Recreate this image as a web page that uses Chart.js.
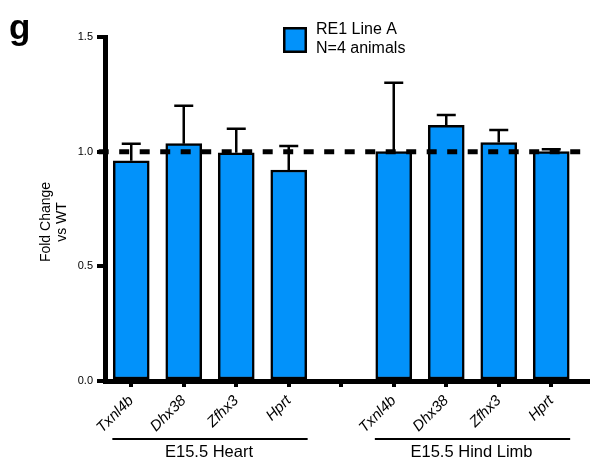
<!DOCTYPE html>
<html>
<head>
<meta charset="utf-8">
<script src="https://cdn.jsdelivr.net/npm/chart.js@4.4.1/dist/chart.umd.min.js"></script>
<style>
  html, body { margin: 0; padding: 0; background: #fff; }
  #wrap { width: 596px; height: 459px; position: relative; }
</style>
</head>
<body>
<div id="wrap"><canvas id="c" width="596" height="459"></canvas></div>
<script>
// Genes measured in each tissue
const genes = ['Txnl4b', 'Dhx38', 'Zfhx3', 'Hprt'];
// Tick labels along the x axis (an empty slot separates the two tissues)
const tickLabels = ['Txnl4b', 'Dhx38', 'Zfhx3', 'Hprt', '', 'Txnl4b', 'Dhx38', 'Zfhx3', 'Hprt'];
const groupNames = ['E15.5 Heart', 'E15.5 Hind Limb'];

// Mean fold change vs WT and SEM
const heartMean = [0.96, 1.035, 0.995, 0.92];
const heartSem  = [0.075, 0.165, 0.105, 0.105];
const limbMean  = [1.0, 1.115, 1.04, 1.0];
const limbSem   = [0.30, 0.045, 0.055, 0.01];

// Y axis ticks
const yTicks = [0.0, 0.5, 1.0, 1.5];
const refLevel = 1.0;

const seriesLabel = ['RE1 Line A', 'N=4 animals'];

const FONT = "'Liberation Sans', Arial, Helvetica, sans-serif";
const BLUE = 'rgb(2,146,250)';

const heartPos = genes.map((g, i) => i);
const limbPos = genes.map((g, i) => i + 5);

const barPoints = [
  ...heartMean.map((v, i) => ({ x: heartPos[i], y: v, e: heartSem[i] })),
  ...limbMean.map((v, i) => ({ x: limbPos[i], y: v, e: limbSem[i] }))
];

const groups = [
  { name: groupNames[0], from: heartPos[0], to: heartPos[heartPos.length - 1] },
  { name: groupNames[1], from: limbPos[0], to: limbPos[limbPos.length - 1] }
];

// Error bars (upper arm only), bracket lines, legend and panel letter
const decorations = {
  id: 'decorations',
  afterDatasetsDraw(chart) {
    const ctx = chart.ctx;
    const ys = chart.scales.y;
    const meta = chart.getDatasetMeta(1);
    ctx.save();
    ctx.strokeStyle = '#000';
    ctx.lineWidth = 2.5;
    meta.data.forEach((bar, i) => {
      const p = barPoints[i];
      const top = ys.getPixelForValue(p.y + p.e);
      ctx.beginPath();
      ctx.moveTo(bar.x, bar.y);
      ctx.lineTo(bar.x, top);
      ctx.moveTo(bar.x - 9.5, top);
      ctx.lineTo(bar.x + 9.5, top);
      ctx.stroke();
    });
    ctx.restore();
  },
  afterDraw(chart) {
    const ctx = chart.ctx;
    const xs = chart.scales.x;
    ctx.save();
    // tissue brackets
    ctx.strokeStyle = '#000';
    ctx.lineWidth = 2;
    ctx.fillStyle = '#000';
    ctx.font = '16.5px ' + FONT;
    ctx.textAlign = 'center';
    ctx.textBaseline = 'middle';
    groups.forEach(g => {
      const x0 = xs.getPixelForValue(g.from - 0.36);
      const x1 = xs.getPixelForValue(g.to + 0.36);
      ctx.beginPath();
      ctx.moveTo(x0, 439);
      ctx.lineTo(x1, 439);
      ctx.stroke();
      ctx.fillText(g.name, (x0 + x1) / 2 - 1, 452);
    });
    // y axis title
    ctx.save();
    ctx.translate(46, 222);
    ctx.rotate(-Math.PI / 2);
    ctx.font = '14px ' + FONT;
    ctx.fillText('Fold Change', 0, 0);
    ctx.fillText('vs WT', 0, 16);
    ctx.restore();
    // legend
    ctx.fillStyle = BLUE;
    ctx.fillRect(283, 27, 24, 26);
    ctx.lineWidth = 2.5;
    ctx.strokeRect(284.25, 28.25, 21.5, 23.5);
    ctx.fillStyle = '#000';
    ctx.textAlign = 'left';
    ctx.font = '16px ' + FONT;
    ctx.fillText(seriesLabel[0], 316, 30);
    ctx.fillText(seriesLabel[1], 316, 49);
    // panel letter
    ctx.font = 'bold 35px ' + FONT;
    ctx.textBaseline = 'alphabetic';
    ctx.fillText('g', 9, 39);
    ctx.restore();
  }
};

new Chart(document.getElementById('c'), {
  data: {
    datasets: [
      {
        type: 'line',
        order: 0,
        data: [{ x: -0.62, y: refLevel }, { x: 8.74, y: refLevel }],
        borderColor: '#000',
        borderWidth: 5,
        borderDash: [10, 10.5],
        pointRadius: 0,
        fill: false,
        clip: false
      },
      {
        type: 'bar',
        order: 1,
        label: seriesLabel.join(' '),
        data: barPoints,
        backgroundColor: BLUE,
        borderColor: '#000',
        borderWidth: 2.5,
        borderSkipped: false,
        barThickness: 36
      }
    ]
  },
  options: {
    responsive: false,
    animation: false,
    devicePixelRatio: 1,
    layout: { padding: { left: 0, right: 8, top: 37, bottom: 0 } },
    plugins: { legend: { display: false }, tooltip: { enabled: false } },
    scales: {
      x: {
        type: 'linear',
        min: -0.5,
        max: 8.7,
        offset: false,
        afterBuildTicks: s => { s.ticks = tickLabels.map((t, i) => ({ value: i })); },
        afterFit: s => { s.height = 78; s.paddingLeft = 0; s.paddingRight = 0; },
        border: { display: true, color: '#000', width: 5 },
        grid: { display: true, offset: false, drawOnChartArea: false, drawTicks: true, tickLength: 6, lineWidth: 4, color: '#000' },
        ticks: {
          autoSkip: false,
          minRotation: 45,
          maxRotation: 45,
          padding: 5,
          color: '#000',
          font: { family: FONT, size: 15, style: 'italic' },
          callback: (v) => tickLabels[v] !== undefined ? tickLabels[v] : ''
        }
      },
      y: {
        min: 0,
        max: 1.5,
        afterBuildTicks: s => { s.ticks = yTicks.map(v => ({ value: v })); },
        afterFit: s => { s.width = 105; s.paddingTop = 0; s.paddingBottom = 0; },
        border: { display: true, color: '#000', width: 5 },
        grid: { display: true, drawOnChartArea: false, drawTicks: true, tickLength: 8, lineWidth: 4, color: '#000' },
        ticks: {
          padding: 4,
          color: '#000',
          font: { family: FONT, size: 11 },
          callback: v => Number(v).toFixed(1)
        }
      }
    }
  },
  plugins: [decorations]
});
</script>
</body>
</html>
